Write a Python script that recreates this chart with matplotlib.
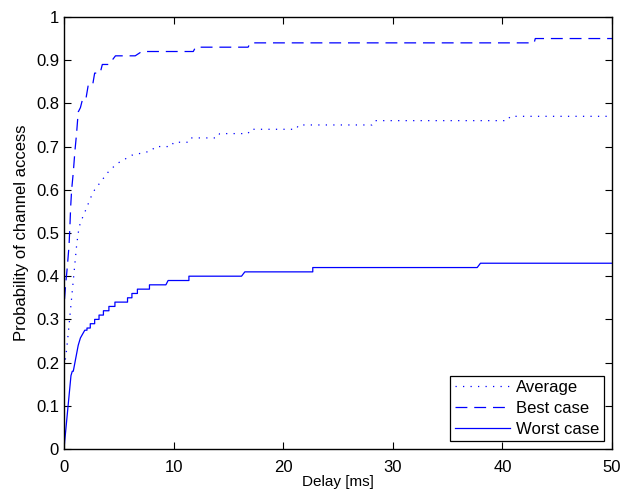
import matplotlib
matplotlib.use("Agg")
import matplotlib.pyplot as plt

plt.rcParams['font.family'] = ['Liberation Sans', 'DejaVu Sans']

# data (curve vertices of the three CDFs)
avg_x = [0, 0.09, 0.24, 0.4, 0.55, 0.7, 0.85, 1.0, 1.15, 1.3,
         1.46, 1.76, 2.1, 2.4, 2.8, 3.4, 4.0, 4.8, 6.2, 8.0,
         8.3, 9.8, 10.0, 11.4, 11.6, 14.0, 14.2, 16.8, 17.0, 21.2,
         21.4, 28.1, 28.3, 40.5, 40.7, 50]
avg_y = [0.19, 0.2, 0.23, 0.27, 0.31, 0.35, 0.39, 0.43, 0.47, 0.5,
         0.52, 0.54, 0.56, 0.58, 0.6, 0.62, 0.64, 0.66, 0.68, 0.69,
         0.70, 0.70, 0.71, 0.71, 0.72, 0.72, 0.73, 0.73, 0.74, 0.74,
         0.75, 0.75, 0.76, 0.76, 0.77, 0.77]

best_x = [0, 0, 0.15, 0.3, 0.46, 0.55, 0.61, 0.7, 0.85, 1.0,
          1.15, 1.3, 1.5, 1.7, 2.0, 2.2, 2.6, 2.8, 3.3, 3.5,
          4.1, 4.7, 6.5, 7.1, 11.8, 12.0, 16.8, 17.0, 42.9, 43.0, 50]
best_y = [0, 0.33, 0.38, 0.42, 0.47, 0.52, 0.56, 0.6, 0.64, 0.69,
          0.73, 0.78, 0.79, 0.81, 0.81, 0.84, 0.84, 0.87, 0.87, 0.89,
          0.89, 0.91, 0.91, 0.92, 0.92, 0.93, 0.93, 0.94, 0.94, 0.95, 0.95]

worst_x = [0, 0.64, 0.76, 0.85, 1.0, 1.3, 1.5, 1.9, 2.1, 2.1,
           2.4, 2.4, 2.8, 2.8, 3.2, 3.2, 3.6, 3.6, 4.1, 4.1,
           4.65, 4.65, 5.8, 5.8, 6.2, 6.2, 6.7, 6.7, 7.8, 7.8,
           9.3, 9.5, 11.4, 11.4, 16.2, 16.5, 22.7, 22.7, 37.7, 38.0, 50]
worst_y = [0, 0.17, 0.18, 0.18, 0.2, 0.24, 0.257, 0.275, 0.275, 0.28,
           0.28, 0.29, 0.29, 0.30, 0.30, 0.31, 0.31, 0.32, 0.32, 0.33,
           0.33, 0.34, 0.34, 0.35, 0.35, 0.36, 0.36, 0.37, 0.37, 0.38,
           0.38, 0.39, 0.39, 0.40, 0.40, 0.41, 0.41, 0.42, 0.42, 0.43, 0.43]

fig = plt.figure(figsize=(6.21, 4.91), dpi=100)
ax = fig.add_axes([0.103, 0.0855, 0.8825, 0.88])

ax.plot(avg_x, avg_y, color='blue', lw=0.9, ls=(0, (1, 5)), label='Average')
ax.plot(best_x, best_y, color='blue', lw=0.9, ls=(0, (9.5, 5.5)), label='Best case')
ax.plot(worst_x, worst_y, color='blue', lw=0.9, label='Worst case')

ax.set_xlim(0, 50)
ax.set_ylim(0, 1)
ax.set_xticks([0, 10, 20, 30, 40, 50])
ax.set_yticks([i / 10 for i in range(11)])
ax.set_yticklabels(['0'] + ['0.%d' % i for i in range(1, 10)] + ['1'])
ax.tick_params(direction='in', length=5, width=0.8, top=True, right=True, labelsize=12)
ax.tick_params(axis='x', pad=8)
for s in ax.spines.values():
    s.set_linewidth(1.0)

ax.set_xlabel('Delay [ms]', fontsize=11, labelpad=0)
ax.set_ylabel('Probability of channel access', fontsize=12, labelpad=5)

leg = ax.legend(loc='lower right', fontsize=12, fancybox=False, edgecolor='black',
                framealpha=1, borderaxespad=0.5, handlelength=3.3, labelspacing=0.35,
                borderpad=0.25, handletextpad=0.4)
leg.get_frame().set_linewidth(0.9)

fig.savefig('out.png', dpi=100)
